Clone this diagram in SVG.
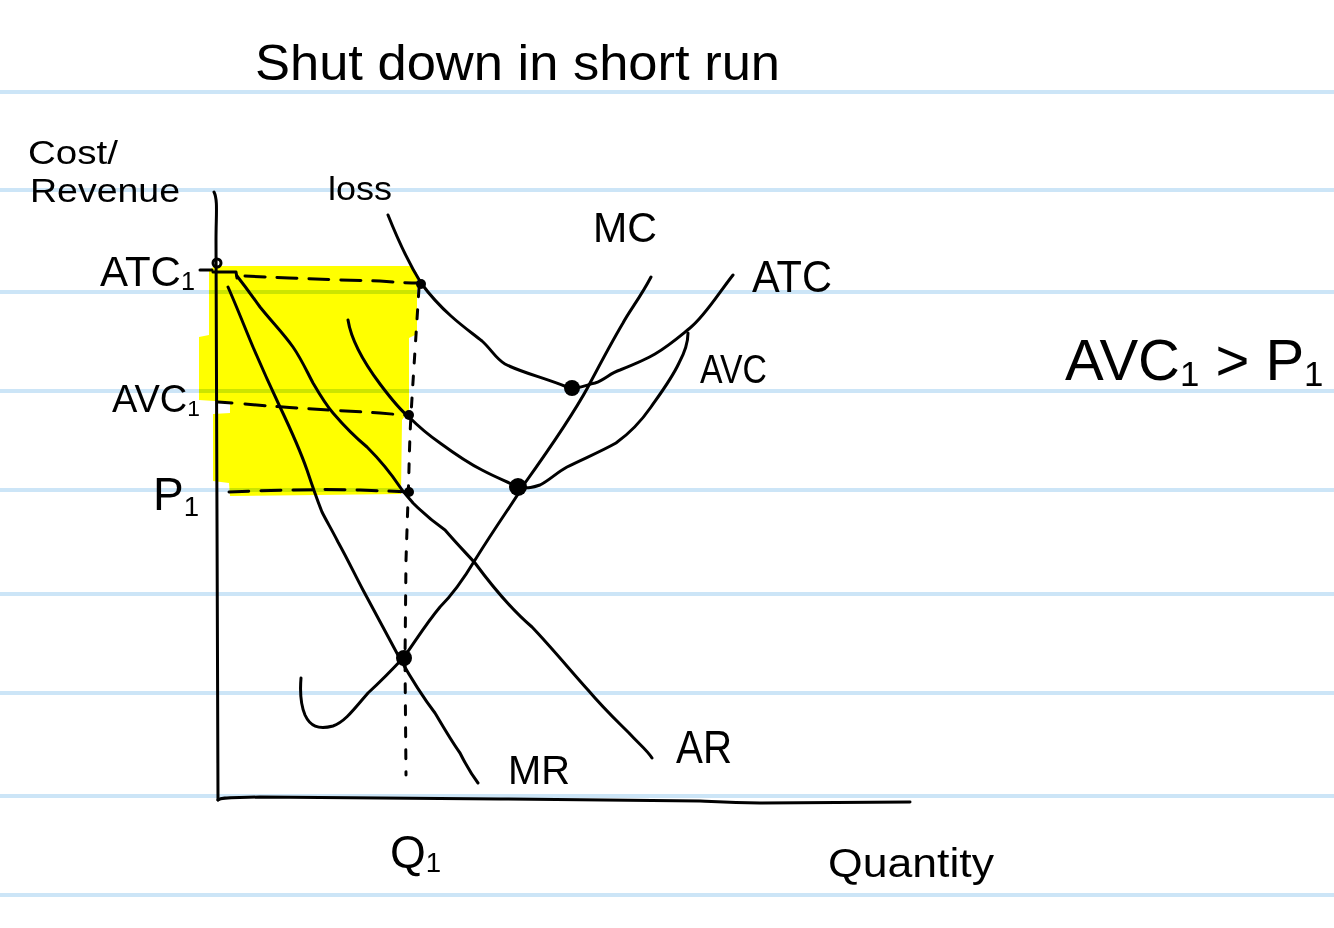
<svg xmlns="http://www.w3.org/2000/svg" width="1334" height="928" viewBox="0 0 1334 928">
<style>
.rule{stroke:#cce5f7;stroke-width:4;fill:none}
.ink{stroke:#000;stroke-width:3;fill:none;stroke-linecap:round;stroke-linejoin:round}
.dash{stroke:#000;stroke-width:3;fill:none;stroke-linecap:round;stroke-dasharray:20 12}
.vdash{stroke:#000;stroke-width:3;fill:none;stroke-linecap:round;stroke-dasharray:9 13}
.lbl{font-family:"Liberation Sans","DejaVu Sans",sans-serif;fill:#000}
.sub{font-size:0.6em}
.dot{fill:#000}
</style>
<rect width="1334" height="928" fill="#fff"/>
<g id="rules">
<line class="rule" x1="0" y1="92" x2="1334" y2="92"/>
<line class="rule" x1="0" y1="190" x2="1334" y2="190"/>
<line class="rule" x1="0" y1="292" x2="1334" y2="292"/>
<line class="rule" x1="0" y1="391" x2="1334" y2="391"/>
<line class="rule" x1="0" y1="490" x2="1334" y2="490"/>
<line class="rule" x1="0" y1="594" x2="1334" y2="594"/>
<line class="rule" x1="0" y1="693" x2="1334" y2="693"/>
<line class="rule" x1="0" y1="796" x2="1334" y2="796"/>
<line class="rule" x1="0" y1="895" x2="1334" y2="895"/>
</g>
<g id="loss-area">
<polygon fill="#ffff00" style="mix-blend-mode:multiply" points="209,270 215,266 412,266 417,273 417,334 409,338 409,410 402,420 401,494 230,496 229,483 213,481 213,414 230,413 230,402 199,400 199,337 209,335"/>
</g>
<g id="connectors">
<path id="y-axis" class="ink" d="M214,192 C218,200 216,215 216,240 L217,520 L218,800"/>
<path id="x-axis" class="ink" d="M218,800 C222,797 230,798 260,797 L500,799 L700,801 C720,802 730,803 760,803 L910,802"/>
<path id="atc-curve" class="ink" d="M388,215 C398,240 408,262 421,283 C432,298 442,308 451,316 C462,326 472,333 482,341 C492,350 495,358 505,364 C520,372 545,378 567,387 C578,390 585,385 595,383 C605,380 610,373 620,370 C635,364 645,360 655,354 C670,345 680,336 690,328 C705,316 718,294 733,275"/>
<path id="mc-curve" class="ink" d="M651,277 C640,298 630,310 623,323 C610,345 598,368 588,387 C570,420 545,455 525,483 C515,500 500,520 475,560 C460,585 450,597 440,607 C425,625 415,642 404,657 C390,672 380,682 368,693 C355,708 345,722 333,726 C318,730 310,726 305,715 C300,703 300,690 301,678"/>
<path id="avc-curve" class="ink" d="M348,320 C352,345 368,368 380,384 C392,400 400,410 409,417 C420,428 430,436 440,443 C455,454 468,463 482,470 C495,477 508,482 518,487 C528,489 534,487 540,485 C550,480 556,473 567,467 C585,458 600,452 616,443 C630,433 642,420 651,407 C663,390 672,378 679,363 C686,350 688,342 688,333"/>
<path id="ar-curve" class="ink" d="M237,276 C248,290 252,296 260,307 C272,322 283,333 293,347 C302,360 307,372 313,383 C320,395 326,405 333,413 C345,427 355,437 367,447 C380,460 392,475 400,487 C404,493 408,497 413,503 C425,515 435,523 445,530 C458,545 465,552 475,563 C495,590 512,610 532,627 C552,648 570,670 588,690 C605,710 618,722 629,733 C640,745 647,750 652,758"/>
<path id="mr-curve" class="ink" d="M228,287 C236,305 245,328 253,347 C262,368 272,390 280,407 C290,428 300,450 307,470 C313,488 318,502 322,512 C327,522 332,530 338,542 C348,560 355,575 363,590 C378,618 390,640 399,657 C412,680 425,700 435,713 C445,730 452,742 460,753 C466,765 472,775 478,783"/>
<path id="atc1-tick" class="ink" d="M200,270 L212,270 M213,272 L236,272 L237,278"/>
<circle cx="217" cy="263" r="4" class="ink"/>
<path id="atc1-dash" class="dash" d="M245,276 C290,278 330,280 380,281 C395,282 405,283 419,283"/>
<path id="avc1-dash" class="dash" d="M218,402 L232,403 M245,404 C290,408 330,410 380,413 C392,414 400,415 409,415"/>
<path id="p1-dash" class="dash" d="M229,492 C270,490 320,489 360,490 C380,491 392,491 408,492"/>
<path id="q1-dash" class="vdash" d="M419,288 C417,320 413,380 411,415 C409,450 409,480 408,500 L406,560 L405,660 L406,775"/>
<circle class="dot" cx="421" cy="284" r="5"/>
<circle class="dot" cx="409" cy="415" r="5"/>
<circle class="dot" cx="409" cy="492" r="5"/>
<circle class="dot" cx="572" cy="388" r="8"/>
<circle class="dot" cx="518" cy="487" r="9"/>
<circle class="dot" cx="404" cy="658" r="8"/>
</g>
<g id="title"><text class="lbl" x="255" y="80" font-size="50" textLength="525" lengthAdjust="spacingAndGlyphs">Shut down in short run</text></g>
<g id="label-yaxis">
<text class="lbl" x="28" y="164" font-size="34" textLength="90" lengthAdjust="spacingAndGlyphs">Cost/</text>
<text class="lbl" x="30" y="202" font-size="34" textLength="150" lengthAdjust="spacingAndGlyphs">Revenue</text>
</g>
<g id="label-loss"><text class="lbl" x="328" y="200" font-size="34" textLength="64" lengthAdjust="spacingAndGlyphs">loss</text></g>
<g id="label-mc"><text class="lbl" x="593" y="242" font-size="42" textLength="64" lengthAdjust="spacingAndGlyphs">MC</text></g>
<g id="label-atc"><text class="lbl" x="752" y="292" font-size="44" textLength="80" lengthAdjust="spacingAndGlyphs">ATC</text></g>
<g id="label-avc"><text class="lbl" x="700" y="383" font-size="40" textLength="67" lengthAdjust="spacingAndGlyphs">AVC</text></g>
<g id="label-atc1"><text class="lbl" x="100" y="286" font-size="42">ATC<tspan class="sub" dy="4">1</tspan></text></g>
<g id="label-avc1"><text class="lbl" x="112" y="412" font-size="38">AVC<tspan class="sub" dy="4">1</tspan></text></g>
<g id="label-p1"><text class="lbl" x="153" y="510" font-size="46">P<tspan class="sub" dy="6">1</tspan></text></g>
<g id="label-q1"><text class="lbl" x="390" y="868" font-size="46">Q<tspan class="sub" dy="4">1</tspan></text></g>
<g id="label-mr"><text class="lbl" x="508" y="784" font-size="40" textLength="62" lengthAdjust="spacingAndGlyphs">MR</text></g>
<g id="label-ar"><text class="lbl" x="676" y="763" font-size="46" textLength="56" lengthAdjust="spacingAndGlyphs">AR</text></g>
<g id="label-quantity"><text class="lbl" x="828" y="877" font-size="40" textLength="166" lengthAdjust="spacingAndGlyphs">Quantity</text></g>
<g id="label-condition"><text class="lbl" x="1065" y="380" font-size="58">AVC<tspan class="sub" dy="6">1</tspan><tspan dy="-6"> &gt; P</tspan><tspan class="sub" dy="6">1</tspan></text></g>
</svg>
